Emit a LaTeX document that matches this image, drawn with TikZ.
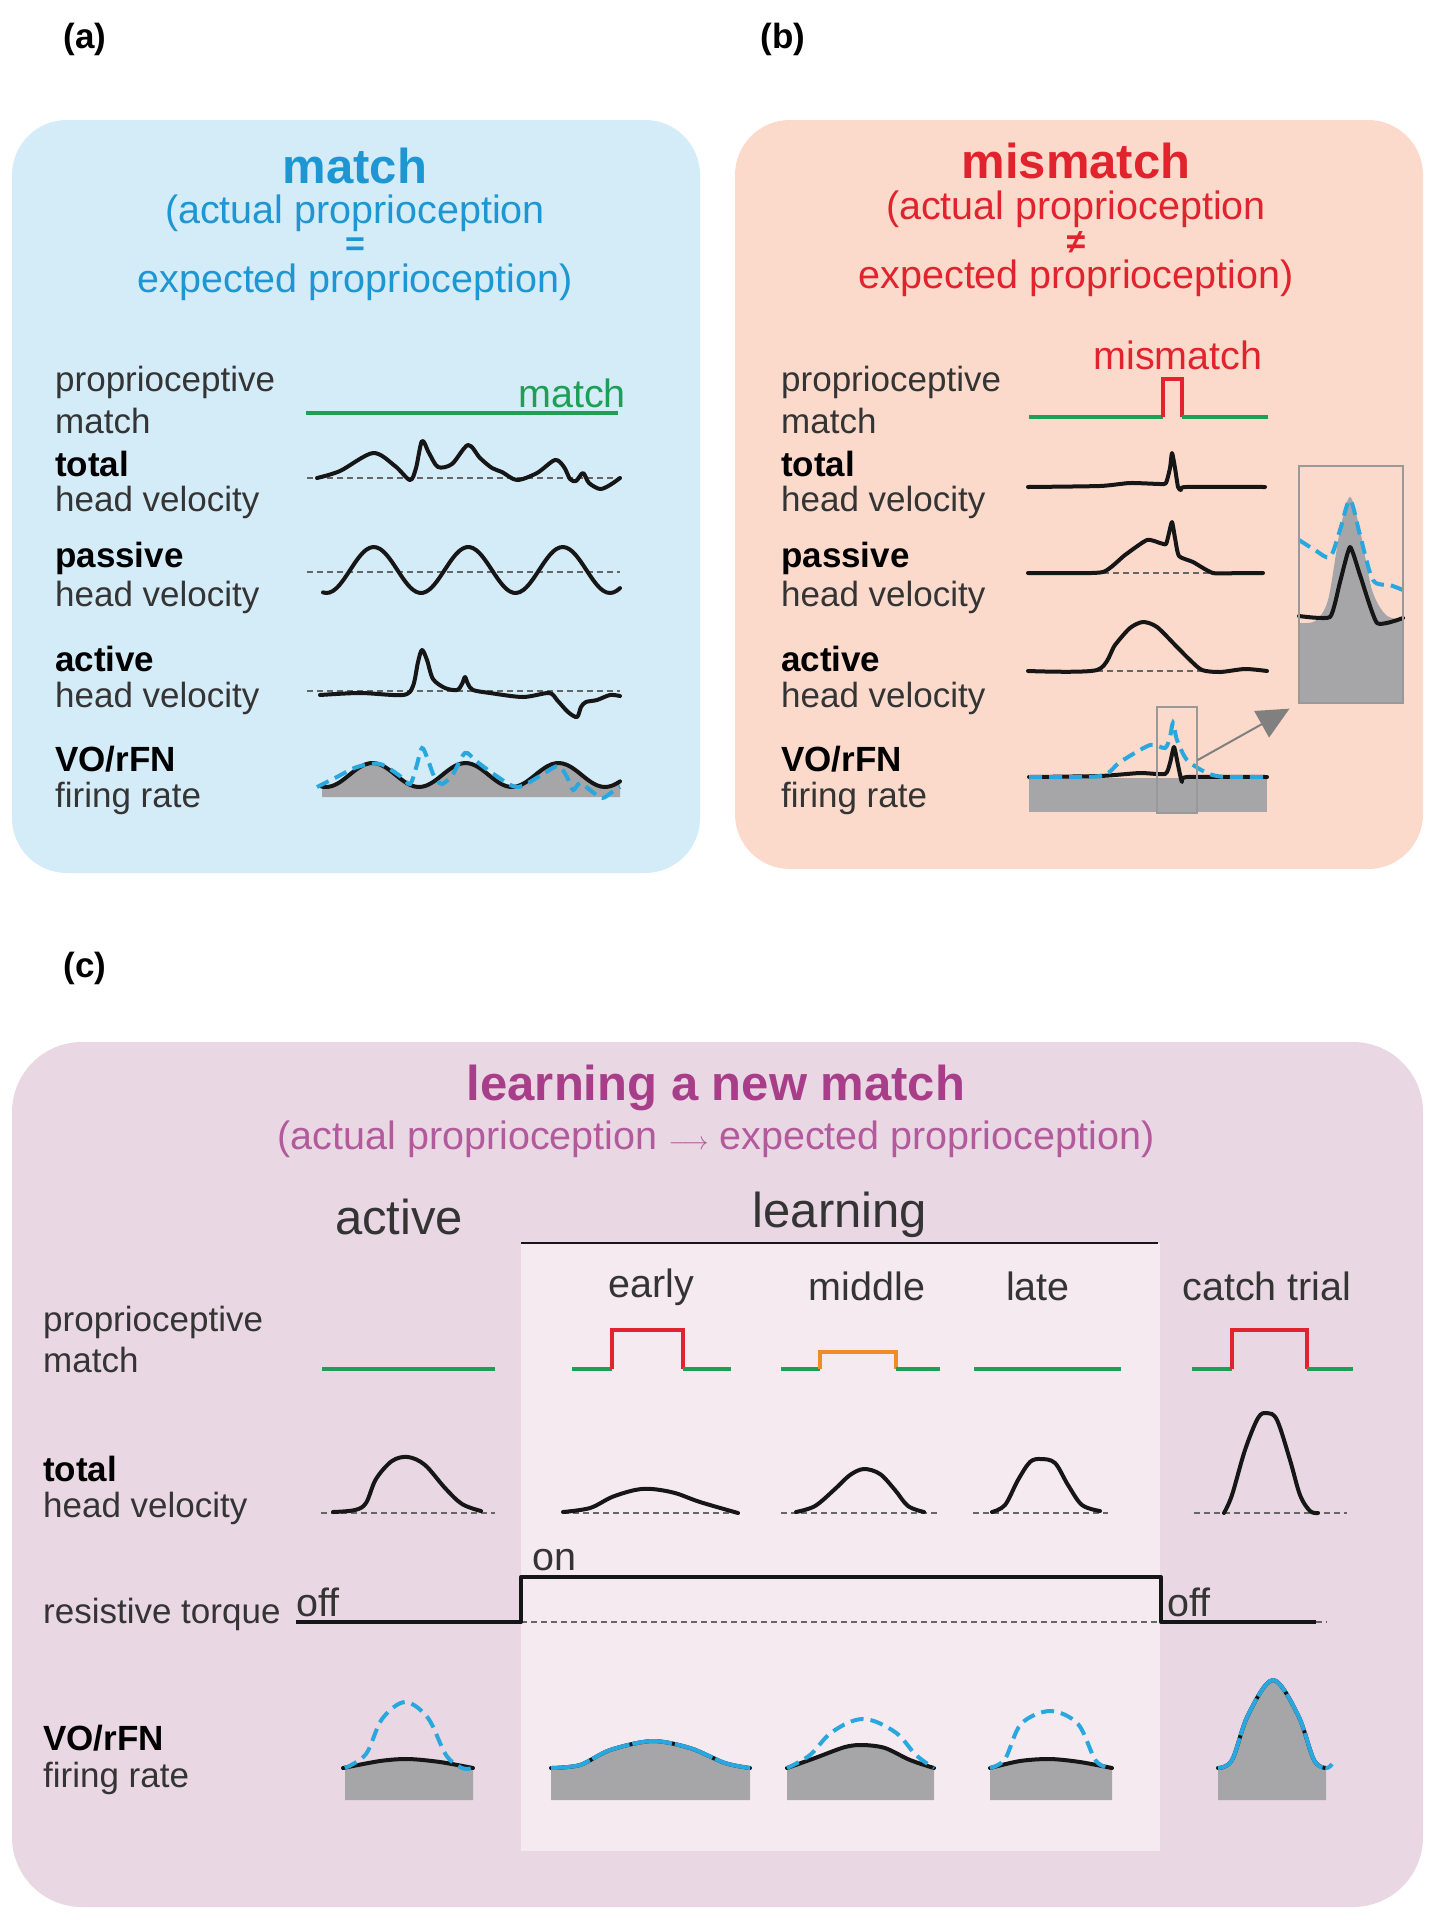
\documentclass[tikz,border=0pt]{standalone}
\usepackage{fontspec}
\setmainfont{Liberation Sans}
\usetikzlibrary{arrows.meta}
\definecolor{bgA}{RGB}{212,235,248}
\definecolor{bgB}{RGB}{251,218,204}
\definecolor{bgC}{RGB}{234,215,228}
\definecolor{bgL}{RGB}{246,234,241}
\definecolor{cblue}{RGB}{30,150,210}
\definecolor{dblue}{RGB}{40,168,222}
\definecolor{cred}{RGB}{225,35,45}
\definecolor{cgreen}{RGB}{28,160,85}
\definecolor{corange}{RGB}{240,140,40}
\definecolor{cpurple}{RGB}{168,62,138}
\definecolor{cpurpleb}{RGB}{178,90,155}
\definecolor{gfillc}{RGB}{166,166,168}
\definecolor{txt}{RGB}{52,52,52}
\definecolor{trc}{RGB}{22,22,22}
\begin{document}
\begin{tikzpicture}[x=1pt,y=-1pt,
  lab/.style={anchor=west, inner sep=0pt, text=txt, font=\fontsize{35}{40}\selectfont},
  labb/.style={anchor=west, inner sep=0pt, text=black, font=\fontsize{35}{40}\selectfont\bfseries},
  ttl/.style={inner sep=0pt, font=\fontsize{49}{56}\selectfont\bfseries},
  sub/.style={inner sep=0pt, font=\fontsize{39.5}{45}\selectfont},
  hdr/.style={inner sep=0pt, text=txt, font=\fontsize{49}{56}\selectfont},
  phase/.style={inner sep=0pt, text=txt, font=\fontsize{39.5}{45}\selectfont},
  plab/.style={inner sep=0pt, text=black, font=\fontsize{35}{40}\selectfont\bfseries},
  trace/.style={draw=trc, line width=4pt, line join=round, line cap=round},
  baseln/.style={draw=black!60, line width=1.5pt, dash pattern=on 6pt off 4pt},
  bdash/.style={draw=dblue, line width=4pt, dash pattern=on 13pt off 7pt},
  gline/.style={draw=cgreen, line width=4.5pt},
  rline/.style={draw=cred, line width=4pt},
  oline/.style={draw=corange, line width=4pt},
  gfill/.style={fill=gfillc},
  zbox/.style={draw=black!40, line width=1.5pt, inner sep=0pt}
]
\useasboundingbox (0,0) rectangle (1436,1920);
\fill[white] (0,0) rectangle (1436,1920);

% ---------- panel backgrounds
\fill[bgA, rounded corners=55pt] (12,120) rectangle (700,873);
\fill[bgB, rounded corners=55pt] (735,120) rectangle (1423,869);
\fill[bgC, rounded corners=70pt] (12,1042) rectangle (1423,1907);
\fill[bgL] (521,1243) rectangle (1160,1851);
\draw[trc, line width=1.8pt] (521,1243) -- (1158,1243);

% ---------- panel labels
\node[plab] (la) at (85,39) {(a)};
\node[plab] (lb) at (783,39) {(b)};
\node[plab] (lc) at (85,968) {(c)};

% ================= panel a =================
\node[ttl, text=cblue] (ta) at (355,166) {match};
\node[sub, text=cblue] (ta1) at (355,213) {(actual proprioception};
\node[sub, text=cblue, font=\fontsize{34}{40}\selectfont\bfseries] (ta2) at (355,247) {=};
\node[sub, text=cblue] (ta3) at (355,282) {expected proprioception)};

\node[lab] (a1) at (55,382) {proprioceptive};
\node[lab] (a2) at (55,421) {match};
\node[labb] (a3) at (55,464) {total};
\node[lab] (a4) at (55,502) {head velocity};
\node[labb] (a5) at (55,558) {passive};
\node[lab] (a6) at (55,597) {head velocity};
\node[labb] (a7) at (55,659) {active};
\node[lab] (a8) at (55,698) {head velocity};
\node[labb] (a9) at (55,759) {VO/rFN};
\node[lab] (a10) at (55,798) {firing rate};

\draw[gline] (306,413) -- (618,413);
\node[sub, anchor=east, text=cgreen] (am) at (626,393) {match};

% total
\draw[baseln] (307,478) -- (620,478);
\draw[trace] plot[smooth, tension=0.5] coordinates {(317,478) (340,471) (373,453) (395,466) (410,480) (416,468) (422,441) (429,453) (438,467) (452,464) (468,445) (480,458) (492,468) (502,472) (517,480) (537,473) (555,460) (564,467) (570,479) (576,481) (583,473) (589,483) (600,489) (610,485) (620,478)};
% passive
\draw[baseln] (307,572) -- (620,572);
\draw[trace] plot[domain=323:620, samples=90, smooth] (\x,{570+23*cos((\x-421)/94.5*360)});
% active
\draw[baseln] (307,691) -- (620,691);
\draw[trace] plot[smooth, tension=0.5] coordinates {(320,695) (360,693) (403,695) (413,686) (418,662) (422,650) (427,660) (433,679) (445,688) (457,690) (462,684) (465,677) (468,684) (473,690) (490,693) (523,697) (549,693) (557,700) (568,712) (577,717) (581,707) (586,702) (597,700) (610,695) (620,696)};
% firing rate
\fill[gfill] (322,797) -- plot[domain=322:620, samples=80, smooth] (\x,{775+12*cos((\x-419)/93*360)}) -- (620,797) -- cycle;
\draw[trace] plot[domain=320:620, samples=80, smooth] (\x,{775+12*cos((\x-419)/93*360)});
\draw[bdash] plot[smooth, tension=0.5] coordinates {(317,787) (335,778) (357,767) (380,764) (400,776) (410,784) (416,768) (422,748) (428,760) (434,776) (442,784) (453,774) (465,753) (476,761) (495,775) (517,787) (540,776) (558,766) (567,777) (573,790) (580,783) (590,790) (602,798) (612,792) (620,787)};

% ================= panel b =================
\node[ttl, text=cred] (tb) at (1076,161) {mismatch};
\node[sub, text=cred] (tb1) at (1076,209) {(actual proprioception};
\node[sub, text=cred, font=\fontsize{34}{40}\selectfont\bfseries] (tb2) at (1076,243) {≠};
\node[sub, text=cred] (tb3) at (1076,278) {expected proprioception)};

\node[lab] (b1) at (781,382) {proprioceptive};
\node[lab] (b2) at (781,421) {match};
\node[labb] (b3) at (781,464) {total};
\node[lab] (b4) at (781,502) {head velocity};
\node[labb] (b5) at (781,558) {passive};
\node[lab] (b6) at (781,597) {head velocity};
\node[labb] (b7) at (781,659) {active};
\node[lab] (b8) at (781,698) {head velocity};
\node[labb] (b9) at (781,759) {VO/rFN};
\node[lab] (b10) at (781,798) {firing rate};

\node[sub, text=cred] (bm) at (1178,355) {mismatch};
\draw[gline] (1029,417) -- (1163,417);
\draw[rline] (1163,417) -- (1163,379) -- (1182,379) -- (1182,417);
\draw[gline] (1182,417) -- (1268,417);

% total
\draw[trace] plot[smooth, tension=0.35] coordinates {(1028,487) (1100,486) (1130,483) (1160,484) (1166,483) (1170,468) (1172,453) (1175,468) (1178,487) (1181,490) (1186,487) (1265,487)};
% passive
\draw[baseln] (1103,573) -- (1213,573);
\draw[trace] plot[smooth, tension=0.35] coordinates {(1028,573) (1060,573) (1103,572) (1125,555) (1147,540) (1160,543) (1166,544) (1169,533) (1172,522) (1175,538) (1179,556) (1193,562) (1213,573) (1240,573) (1263,573)};
% active
\draw[baseln] (1097,671) -- (1213,671);
\draw[trace] plot[smooth, tension=0.45] coordinates {(1028,671) (1097,670) (1115,645) (1130,628) (1143,622) (1157,627) (1177,647) (1190,660) (1202,670) (1220,672) (1245,669) (1267,671)};
% firing rate
\fill[gfill] (1029,778) rectangle (1267,812);
\draw[trace] plot[smooth, tension=0.35] coordinates {(1029,777) (1100,776) (1140,773) (1165,774) (1170,763) (1174,747) (1178,765) (1182,782) (1187,777) (1267,777)};
\draw[bdash] plot[smooth, tension=0.45] coordinates {(1029,777) (1100,776) (1120,762) (1150,745) (1165,748) (1170,737) (1173,723) (1177,740) (1187,760) (1207,773) (1225,777) (1267,777)};
\node[zbox, minimum width=40pt, minimum height=106pt] (zoomsrc) at (1177,760) {};

% inset
\fill[gfill] (1299,703) -- plot[smooth, tension=0.5] coordinates {(1299,623) (1315,621) (1328,600) (1340,530) (1350,497) (1360,530) (1372,590) (1386,615) (1403,620)} -- (1403,703) -- cycle;
\draw[trace] plot[smooth, tension=0.3] coordinates {(1299,616) (1330,617) (1340,582) (1350,547) (1360,575) (1377,623) (1403,618)};
\draw[bdash] plot[smooth, tension=0.5] coordinates {(1299,540) (1315,550) (1330,557) (1340,530) (1350,500) (1360,535) (1373,580) (1390,585) (1403,590)};
\node[zbox, minimum width=104pt, minimum height=237pt] (inset) at (1351,584.5) {};
\draw[draw=black!50, line width=2pt, shorten >=10pt, -{Triangle[length=32pt, width=30pt]}] (zoomsrc.east) -- (inset.south west);

% ================= panel c =================
\node[ttl, text=cpurple] (tc) at (716,1088) {learning a new match};
\node[sub, text=cpurpleb] (tc1) at (716,1139) {(actual proprioception $\longrightarrow$ expected proprioception)};

\node[hdr] (hact) at (399,1217) {active};
\node[hdr] (hlrn) at (840,1215) {learning};
\node[phase] (pe) at (651,1287) {early};
\node[phase] (pm) at (867,1286) {middle};
\node[phase] (pl) at (1038,1286) {late};
\node[phase] (pc) at (1267,1286) {catch trial};

\node[lab] (c1) at (43,1322) {proprioceptive};
\node[lab] (c2) at (43,1360) {match};
\node[labb] (c3) at (43,1469) {total};
\node[lab] (c4) at (43,1508) {head velocity};
\node[lab] (c5) at (43,1614) {resistive torque};
\node[labb] (c6) at (43,1738) {VO/rFN};
\node[lab] (c7) at (43,1778) {firing rate};

% proprioceptive match row
\draw[gline] (322,1369) -- (495,1369);
\draw[gline] (572,1369) -- (612,1369);
\draw[rline] (612,1369) -- (612,1330) -- (683,1330) -- (683,1369);
\draw[gline] (683,1369) -- (731,1369);
\draw[gline] (781,1369) -- (820,1369);
\draw[oline] (820,1369) -- (820,1352) -- (896,1352) -- (896,1369);
\draw[gline] (896,1369) -- (940,1369);
\draw[gline] (974,1369) -- (1121,1369);
\draw[gline] (1192,1369) -- (1232,1369);
\draw[rline] (1232,1369) -- (1232,1330) -- (1307,1330) -- (1307,1369);
\draw[gline] (1307,1369) -- (1353,1369);

% total head velocity row
\draw[baseln] (321,1513) -- (495,1513);
\draw[trace] plot[smooth, tension=0.55] coordinates {(333,1512) (355,1510) (366,1503) (376,1479) (392,1461) (408,1457) (425,1465) (445,1488) (462,1504) (481,1511)};
\draw[baseln] (563,1513) -- (740,1513);
\draw[trace] plot[smooth, tension=0.55] coordinates {(563,1512) (590,1508) (612,1497) (635,1490) (652,1489) (675,1493) (700,1502) (738,1513)};
\draw[baseln] (781,1513) -- (940,1513);
\draw[trace] plot[smooth, tension=0.55] coordinates {(796,1512) (815,1506) (835,1489) (850,1475) (864,1469) (880,1474) (895,1490) (908,1506) (924,1512)};
\draw[baseln] (973,1513) -- (1108,1513);
\draw[trace] plot[smooth, tension=0.55] coordinates {(992,1512) (1005,1505) (1018,1480) (1030,1462) (1041,1459) (1055,1463) (1068,1485) (1082,1505) (1100,1511)};
\draw[baseln] (1194,1513) -- (1347,1513);
\draw[trace] plot[smooth, tension=0.55] coordinates {(1224,1513) (1232,1495) (1245,1450) (1258,1418) (1267,1413) (1277,1420) (1290,1460) (1300,1495) (1310,1511) (1318,1513)};

% resistive torque row
\draw[baseln] (521,1622) -- (1161,1622);
\draw[baseln] (1316,1622) -- (1327,1622);
\draw[trace, line cap=butt] (296,1622) -- (521,1622) -- (521,1577) -- (1161,1577) -- (1161,1622) -- (1316,1622);
\node[phase, anchor=west] (off1) at (296,1602) {off};
\node[phase, anchor=west] (on1) at (532,1560) {on};
\node[phase, anchor=west] (off2) at (1167,1602) {off};

% firing rate row
% active
\fill[gfill] (345,1800) -- plot[smooth] coordinates {(345,1768) (380,1761) (408,1759) (440,1762) (473,1768)} -- (473,1800) -- cycle;
\draw[trace] plot[smooth] coordinates {(343,1768) (380,1761) (408,1759) (440,1762) (473,1768)};
\draw[bdash] plot[smooth, tension=0.55] coordinates {(345,1768) (366,1754) (382,1719) (405,1702) (428,1718) (446,1755) (462,1768) (473,1768)};
% early
\fill[gfill] (551,1800) -- plot[smooth] coordinates {(551,1768) (580,1765) (610,1750) (652,1741) (690,1748) (725,1763) (750,1768)} -- (750,1800) -- cycle;
\draw[trace] plot[smooth] coordinates {(551,1768) (580,1765) (610,1750) (652,1741) (690,1748) (725,1763) (750,1768)};
\draw[bdash, dash pattern=on 40pt off 3pt] plot[smooth] coordinates {(551,1768) (580,1765) (610,1750) (652,1741) (690,1748) (725,1763) (750,1768)};
% middle
\fill[gfill] (787,1800) -- plot[smooth] coordinates {(787,1768) (815,1758) (845,1747) (863,1745) (885,1748) (910,1760) (934,1768)} -- (934,1800) -- cycle;
\draw[trace] plot[smooth] coordinates {(787,1768) (815,1758) (845,1747) (863,1745) (885,1748) (910,1760) (934,1768)};
\draw[bdash] plot[smooth, tension=0.6] coordinates {(787,1768) (810,1755) (832,1732) (863,1719) (895,1732) (916,1755) (934,1768)};
% late
\fill[gfill] (990,1800) -- plot[smooth] coordinates {(990,1768) (1020,1761) (1050,1759) (1080,1762) (1112,1768)} -- (1112,1800) -- cycle;
\draw[trace] plot[smooth] coordinates {(990,1768) (1020,1761) (1050,1759) (1080,1762) (1112,1768)};
\draw[bdash] plot[smooth, tension=0.55] coordinates {(990,1768) (1005,1759) (1021,1724) (1050,1711) (1078,1724) (1096,1761) (1112,1768)};
% catch
\fill[gfill] (1218,1800) -- plot[smooth, tension=0.55] coordinates {(1218,1768) (1232,1760) (1248,1715) (1273,1680) (1298,1715) (1314,1760) (1326,1768)} -- (1326,1800) -- cycle;
\draw[trace] plot[smooth, tension=0.55] coordinates {(1218,1768) (1232,1760) (1248,1715) (1273,1680) (1298,1715) (1314,1760) (1326,1768)};
\draw[bdash, dash pattern=on 40pt off 3pt] plot[smooth, tension=0.55] coordinates {(1218,1768) (1232,1760) (1248,1715) (1273,1680) (1298,1715) (1314,1760) (1326,1768) (1332,1764)};
\end{tikzpicture}
\end{document}
